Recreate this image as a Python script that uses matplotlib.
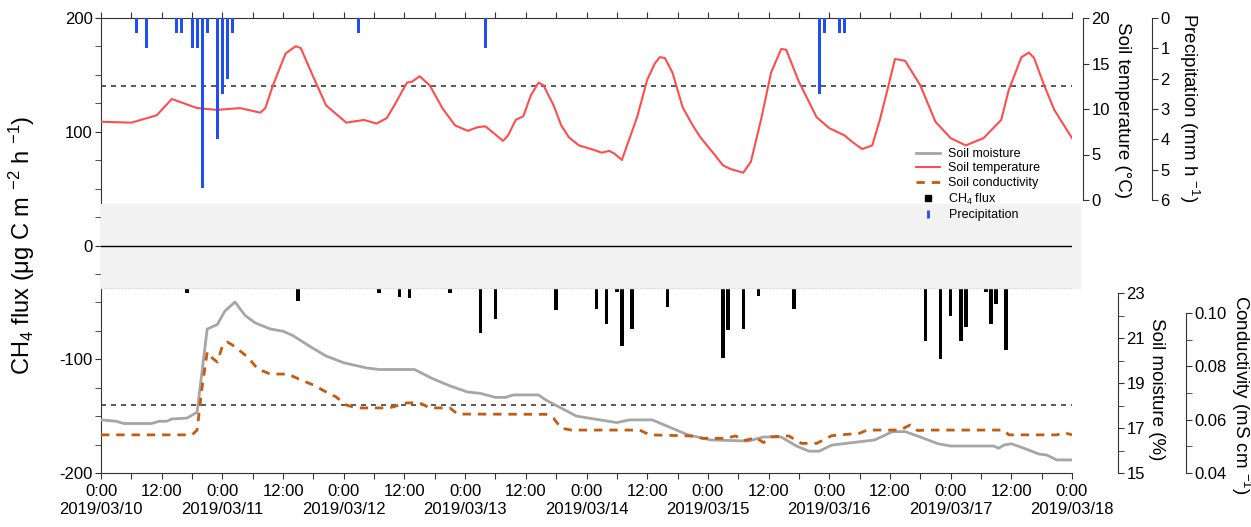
import matplotlib
matplotlib.use("Agg")
import matplotlib.pyplot as plt
from matplotlib.lines import Line2D
from matplotlib.ticker import MultipleLocator, FixedLocator, FuncFormatter, FormatStrFormatter

plt.rcParams['font.family'] = ['Liberation Sans', 'DejaVu Sans']
plt.rcParams['mathtext.fontset'] = 'custom'
plt.rcParams['mathtext.rm'] = 'Liberation Sans'
plt.rcParams['mathtext.it'] = 'Liberation Sans:italic'
plt.rcParams['axes.unicode_minus'] = False

# hours since 2019/03/10 0:00
day_labels = ['2019/03/10', '2019/03/11', '2019/03/12', '2019/03/13', '2019/03/14',
              '2019/03/15', '2019/03/16', '2019/03/17', '2019/03/18']

temp_hour = [0, 6, 11, 14, 19, 23, 27.5, 31.5, 32.5, 34, 36.5, 38.5, 39.5, 42, 44.5, 48.5,
             52, 54.5, 56.5, 58, 60.5, 61.5, 63, 65, 67.5, 70, 72.5, 74.5, 76, 79.5, 80.5,
             82, 83.5, 85, 86.5, 87.5, 89.5, 91, 92.5, 94.5, 97.5, 99, 100.5, 101.5, 103,
             106, 108, 109.5, 110.5, 111.5, 113, 115, 117, 118.5, 121, 123, 124.5, 127,
             128.5, 130.5, 132.5, 134.5, 135.5, 138, 141.5, 144, 147, 148.5, 150.5, 152.5,
             154, 155.5, 157, 159, 162, 165, 168, 171, 174.5, 178, 179.5, 182, 183.5, 184.5,
             186.5, 188.5, 192]
temp_c = [8.6, 8.5, 9.3, 11.1, 10.1, 9.9, 10.1, 9.6, 10.1, 12.6, 16.1, 16.9, 16.7, 13.5, 10.4, 8.5,
          8.8, 8.4, 9.0, 10.4, 12.9, 13.0, 13.6, 12.6, 10.1, 8.2, 7.6, 8.0, 8.1, 6.5, 7.1,
          8.8, 9.2, 11.5, 12.9, 12.6, 10.4, 8.2, 6.9, 6.0, 5.5, 5.2, 5.4, 5.1, 4.4,
          9.1, 13.2, 15.0, 15.7, 15.6, 14.0, 10.2, 8.2, 6.9, 5.2, 3.8, 3.4, 3.0,
          4.2, 8.8, 14.0, 16.6, 16.5, 13.0, 9.1, 7.9, 7.1, 6.4, 5.6, 6.0,
          8.8, 12.1, 15.5, 15.3, 12.6, 8.6, 6.8, 6.0, 6.8, 8.8, 12.1, 15.7, 16.2, 15.6,
          12.6, 9.9, 6.8]

rain_hour = [7, 9, 15, 16, 18, 19, 20, 21, 23, 24, 25, 26, 51, 76, 142, 143, 146, 147]
rain_mm = [0.5, 1.0, 0.5, 0.5, 1.0, 1.0, 5.6, 0.5, 4.0, 2.5, 2.0, 0.5, 0.5, 1.0, 2.5, 0.5, 0.5, 0.5]

ch4_hour = [17, 33, 39, 55, 59, 61, 69, 72, 75, 78, 84, 90, 98, 100, 102, 103, 105, 112,
            123, 124, 127, 130, 137, 163, 166, 168, 170, 171, 175, 176, 177, 179]
ch4_flux = [-42, -38, -49, -42, -45, -46, -41.5, -37.5, -77, -65, -38, -57, -56, -69, -41, -88,
            -73.5, -54, -99, -74, -73.5, -44.5, -56, -84, -100, -62, -84, -71.5, -41, -69, -51, -92]

moist_hour = [0, 3, 4.5, 10, 11.5, 13, 14, 17, 19, 21, 23, 24.5, 26.5, 28.5, 30.5, 33.5, 36, 38,
              41.5, 44.5, 48, 52.5, 55, 62, 65.5, 69, 72.5, 75, 78, 80, 81.5, 86.5, 88, 94,
              97.5, 102, 104.5, 109, 116, 120.5, 128, 131, 134.5, 137.5, 140, 142, 144.5,
              147.5, 153, 156.5, 159, 162, 165.5, 168, 176.5, 177.5, 178.5, 180, 182.5,
              185.5, 187, 189, 192]
moist_pct = [17.36, 17.3, 17.2, 17.2, 17.3, 17.3, 17.4, 17.44, 17.7, 21.4, 21.6, 22.2, 22.6, 22.0,
             21.67, 21.4, 21.3, 21.1, 20.6, 20.2, 19.9, 19.67, 19.6, 19.6, 19.2, 18.87, 18.6,
             18.54, 18.36, 18.36, 18.47, 18.47, 18.24, 17.53, 17.4, 17.24, 17.36, 17.36, 16.7,
             16.47, 16.42, 16.6, 16.6, 16.2, 15.97, 15.97, 16.24, 16.32, 16.47, 16.84, 16.84,
             16.6, 16.3, 16.2, 16.2, 16.1, 16.24, 16.3, 16.1, 15.84, 15.8, 15.58, 15.58]

cond_hour = [0, 18, 19, 20, 21, 22, 23, 24, 25, 26, 29, 31, 33.5, 37, 39.5, 42, 44.5, 46.5,
             48.5, 50.5, 57, 60.5, 63, 65, 69, 70.5, 88, 89.5, 91, 93, 106.5, 108.5, 116.5,
             119, 123.5, 125.5, 127, 129.5, 131, 132.5, 136, 138.5, 141.5, 144.5, 150,
             151.5, 158, 160, 161.5, 163, 178.5, 179.5, 189, 190.5, 192]
cond_ms = [0.0543, 0.0543, 0.0561, 0.0723, 0.0854, 0.0831, 0.0816, 0.0876, 0.0891, 0.088,
           0.0835, 0.079, 0.0771, 0.0771, 0.0749, 0.073, 0.0704, 0.0685, 0.0655, 0.0644,
           0.0644, 0.0663, 0.0663, 0.0644, 0.0644, 0.0621, 0.062, 0.0605, 0.0568, 0.0561,
           0.0561, 0.0543, 0.0539, 0.053, 0.053, 0.0539, 0.0521, 0.0532, 0.0514, 0.0536,
           0.0539, 0.0511, 0.0511, 0.054, 0.0549, 0.0561, 0.0561, 0.058, 0.0559, 0.0561,
           0.0561, 0.0543, 0.0543, 0.0551, 0.0543]

moist_ticks = [15, 17, 19, 21, 23]

red = '#ff4d4d'
blue = '#1f4ef5'
grey = '#a6a6a6'
orange = '#c55a11'
ink = '#333333'

W, H = 1251, 527
fig = plt.figure(figsize=(W / 100, H / 100), dpi=100)


def rect(x0, y0, x1, y1):
    # pixel box (top-left origin) -> figure fraction
    return [x0 / W, 1 - y1 / H, (x1 - x0) / W, (y1 - y0) / H]


def side_axis(box, offset_px):
    a = fig.add_axes(box)
    a.patch.set_visible(False)
    for s in ['top', 'bottom', 'left']:
        a.spines[s].set_visible(False)
    a.spines['right'].set_position(('outward', offset_px * 0.72))
    a.spines['right'].set_color(ink)
    a.yaxis.tick_right()
    a.tick_params(axis='x', bottom=False, labelbottom=False)
    a.tick_params(axis='y', which='both', direction='out', length=4, colors=ink,
                  labelcolor='black', labelsize=12, pad=2)
    a.set_xlim(0, 192)
    return a


# main CH4 axis
ax = fig.add_axes(rect(101, 18, 1072, 473))
ax.set_xlim(0, 192)
ax.set_ylim(-200, 200)
ax.bar(ch4_hour, ch4_flux, width=0.7, color='black', zorder=2)
band = ax.axhspan(-37.4, 36.5, xmin=0, xmax=1.008, color='#f2f2f2', zorder=3)
band.set_clip_on(False)
ax.axhline(-37.4, color='#d0d0d0', lw=0.8, ls=':', zorder=3.5)
ax.axhline(0, color='black', lw=1, zorder=4)
ax.axhline(140, color='#404040', lw=1.2, ls=(0, (3, 3)), zorder=1)
ax.axhline(-140, color='#404040', lw=1.2, ls=(0, (3, 3)), zorder=1)

ax.spines['right'].set_visible(False)
for s in ['top', 'bottom', 'left']:
    ax.spines[s].set_color(ink)
ax.xaxis.set_major_locator(MultipleLocator(6))


def xfmt(v, pos):
    h = int(round(v))
    if h % 24 == 0:
        return '0:00\n' + day_labels[h // 24]
    if h % 12 == 0:
        return '12:00'
    return ''


ax.xaxis.set_major_formatter(FuncFormatter(xfmt))
ax.tick_params(axis='x', direction='out', length=4, top=True, colors=ink,
               labelcolor='black', labelsize=12, pad=4)
ax.yaxis.set_major_locator(MultipleLocator(100))
ax.yaxis.set_minor_locator(MultipleLocator(25))
ax.tick_params(axis='y', which='both', direction='out', length=4, colors=ink,
               labelcolor='black', labelsize=12, pad=2)

# soil temperature
axT = side_axis(rect(101, 18, 1072, 200), 11)
axT.set_ylim(0, 20)
axT.yaxis.set_major_locator(MultipleLocator(5))
axT.plot(temp_hour, temp_c, color=red, lw=1.5)

# precipitation (inverted)
axP = side_axis(rect(101, 18, 1072, 200), 80)
axP.set_ylim(6, 0)
axP.yaxis.set_major_locator(MultipleLocator(1))
axP.bar(rain_hour, rain_mm, width=0.6, color=blue)

# soil moisture
axM = side_axis(rect(101, 293, 1072, 473), 46)
axM.set_ylim(15, 23)
axM.yaxis.set_major_locator(FixedLocator(moist_ticks))
axM.yaxis.set_minor_locator(MultipleLocator(1))
axM.plot(moist_hour, moist_pct, color=grey, lw=2)

# conductivity
axC = side_axis(rect(101, 313, 1072, 473), 114)
axC.set_ylim(0.04, 0.10)
axC.yaxis.set_major_locator(MultipleLocator(0.02))
axC.yaxis.set_minor_locator(MultipleLocator(0.01))
axC.yaxis.set_major_formatter(FormatStrFormatter('%.2f'))
axC.plot(cond_hour, cond_ms, color=orange, lw=2, ls=(0, (3, 2.5)))

# axis titles
fig.text(22 / W, 1 - 245 / H, 'CH$_4$ flux (μg C m $^{-2}$ h $^{-1}$)', rotation=90,
         ha='center', va='center', fontsize=17)
fig.text(1123 / W, 1 - 110 / H, 'Soil temperature (°C)', rotation=270,
         ha='center', va='center', fontsize=13.5)
fig.text(1189 / W, 1 - 108 / H, 'Precipitation (mm h $^{-1}$)', rotation=270,
         ha='center', va='center', fontsize=13.5)
fig.text(1157 / W, 1 - 389 / H, 'Soil moisture (%)', rotation=270,
         ha='center', va='center', fontsize=13.5)
fig.text(1241 / W, 1 - 395 / H, 'Conductivity (mS cm $^{-1}$)', rotation=270,
         ha='center', va='center', fontsize=13.5)

handles = [
    Line2D([], [], color=grey, lw=2, label='Soil moisture'),
    Line2D([], [], color=red, lw=1.5, label='Soil temperature'),
    Line2D([], [], color=orange, lw=2, ls=(0, (3, 2.5)), label='Soil conductivity'),
    Line2D([], [], color='black', marker='s', ls='none', markersize=4, label='CH$_4$ flux'),
    Line2D([], [], color=blue, marker='|', ls='none', markersize=6, markeredgewidth=2,
           label='Precipitation'),
]
fig.legend(handles=handles, loc='upper left', bbox_to_anchor=(916 / W, 1 - 148 / H),
           frameon=False, fontsize=9, handlelength=1.9, handletextpad=0.7,
           labelspacing=0.2, borderpad=0, borderaxespad=0)

fig.savefig('out.png', dpi=100)
